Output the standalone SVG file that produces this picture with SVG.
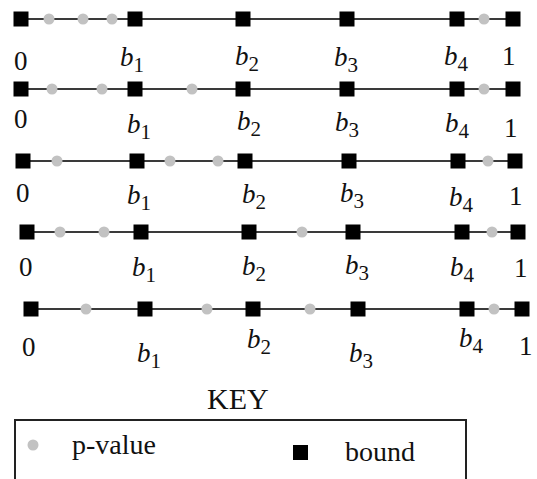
<svg xmlns="http://www.w3.org/2000/svg" width="537" height="479" viewBox="0 0 537 479" font-family="'Liberation Serif', 'DejaVu Serif', serif">
<defs>
<style>
.ln{stroke:#3a3a3a;stroke-width:2;fill:none}
.dot{fill:#c2c2c2}
.bd{fill:#000}
text{font-family:'Liberation Serif','DejaVu Serif',serif;fill:#111}
.t{font-size:27px}
.b{font-size:27px;font-style:italic}
.s{font-size:21px;font-style:normal}
.k{font-size:30px}
.lg{font-size:28px}
</style>
<rect id="sq" x="-7.5" y="-7.5" width="15" height="15" class="bd"/>
<circle id="pv" r="5.5" class="dot"/>
</defs>
<rect width="537" height="479" fill="#fff"/>
<g id="connectors">
<line class="ln" x1="21" y1="19" x2="513" y2="19"/>
<line class="ln" x1="21" y1="89" x2="513" y2="89"/>
<line class="ln" x1="23" y1="161" x2="515" y2="161"/>
<line class="ln" x1="27" y1="232" x2="518" y2="232"/>
<line class="ln" x1="31" y1="309" x2="522" y2="309"/>
</g>
<g id="row1">
<use href="#pv" x="49" y="19"/><use href="#pv" x="83" y="19"/><use href="#pv" x="112" y="19"/><use href="#pv" x="484" y="19"/>
<use href="#sq" x="21" y="19"/><use href="#sq" x="135" y="19"/><use href="#sq" x="243" y="19"/><use href="#sq" x="347" y="19"/><use href="#sq" x="457" y="19"/><use href="#sq" x="513" y="19"/>
<text class="t" x="14" y="70">0</text>
<text class="b" x="120" y="66">b<tspan class="s" dy="6">1</tspan></text>
<text class="b" x="235" y="65">b<tspan class="s" dy="6">2</tspan></text>
<text class="b" x="334" y="66">b<tspan class="s" dy="6">3</tspan></text>
<text class="b" x="444" y="65">b<tspan class="s" dy="6">4</tspan></text>
<text class="t" x="502" y="65">1</text>
</g>
<g id="row2">
<use href="#pv" x="52" y="89"/><use href="#pv" x="102" y="89"/><use href="#pv" x="192" y="89"/><use href="#pv" x="484" y="89"/>
<use href="#sq" x="21" y="89"/><use href="#sq" x="135" y="89"/><use href="#sq" x="243" y="89"/><use href="#sq" x="347" y="89"/><use href="#sq" x="457" y="89"/><use href="#sq" x="513" y="89"/>
<text class="t" x="14" y="128">0</text>
<text class="b" x="127" y="133">b<tspan class="s" dy="6">1</tspan></text>
<text class="b" x="237" y="130">b<tspan class="s" dy="6">2</tspan></text>
<text class="b" x="335" y="131">b<tspan class="s" dy="6">3</tspan></text>
<text class="b" x="445" y="132">b<tspan class="s" dy="6">4</tspan></text>
<text class="t" x="504" y="137">1</text>
</g>
<g id="row3">
<use href="#pv" x="57" y="161"/><use href="#pv" x="170" y="161"/><use href="#pv" x="218" y="161"/><use href="#pv" x="488" y="161"/>
<use href="#sq" x="23" y="161"/><use href="#sq" x="137" y="161"/><use href="#sq" x="245" y="161"/><use href="#sq" x="349" y="161"/><use href="#sq" x="458" y="161"/><use href="#sq" x="515" y="161"/>
<text class="t" x="16" y="202">0</text>
<text class="b" x="127" y="204">b<tspan class="s" dy="6">1</tspan></text>
<text class="b" x="242" y="203">b<tspan class="s" dy="6">2</tspan></text>
<text class="b" x="340" y="202">b<tspan class="s" dy="6">3</tspan></text>
<text class="b" x="449" y="206">b<tspan class="s" dy="6">4</tspan></text>
<text class="t" x="509" y="205">1</text>
</g>
<g id="row4">
<use href="#pv" x="60" y="232"/><use href="#pv" x="104" y="232"/><use href="#pv" x="302" y="232"/><use href="#pv" x="492" y="232"/>
<use href="#sq" x="27" y="232"/><use href="#sq" x="141" y="232"/><use href="#sq" x="249" y="232"/><use href="#sq" x="353" y="232"/><use href="#sq" x="462" y="232"/><use href="#sq" x="518" y="232"/>
<text class="t" x="19" y="276">0</text>
<text class="b" x="132" y="276">b<tspan class="s" dy="6">1</tspan></text>
<text class="b" x="242" y="275">b<tspan class="s" dy="6">2</tspan></text>
<text class="b" x="345" y="274">b<tspan class="s" dy="6">3</tspan></text>
<text class="b" x="450" y="276">b<tspan class="s" dy="6">4</tspan></text>
<text class="t" x="514" y="277">1</text>
</g>
<g id="row5">
<use href="#pv" x="86" y="309"/><use href="#pv" x="207" y="309"/><use href="#pv" x="310" y="309"/><use href="#pv" x="494" y="309"/>
<use href="#sq" x="31" y="309"/><use href="#sq" x="145" y="309"/><use href="#sq" x="253" y="309"/><use href="#sq" x="358" y="309"/><use href="#sq" x="467" y="309"/><use href="#sq" x="522" y="309"/>
<text class="t" x="22" y="356">0</text>
<text class="b" x="137" y="362">b<tspan class="s" dy="6">1</tspan></text>
<text class="b" x="247" y="348">b<tspan class="s" dy="6">2</tspan></text>
<text class="b" x="349" y="362">b<tspan class="s" dy="6">3</tspan></text>
<text class="b" x="459" y="347">b<tspan class="s" dy="6">4</tspan></text>
<text class="t" x="519" y="355">1</text>
</g>
<g id="key">
<text class="k" x="207" y="409">KEY</text>
<rect x="15" y="420" width="451" height="80" fill="none" stroke="#222" stroke-width="2"/>
<circle cx="33" cy="445" r="5.5" class="dot"/>
<text class="lg" x="72" y="454">p-value</text>
<rect x="293" y="445" width="15" height="15" class="bd"/>
<text class="lg" x="345" y="461">bound</text>
</g>
</svg>
